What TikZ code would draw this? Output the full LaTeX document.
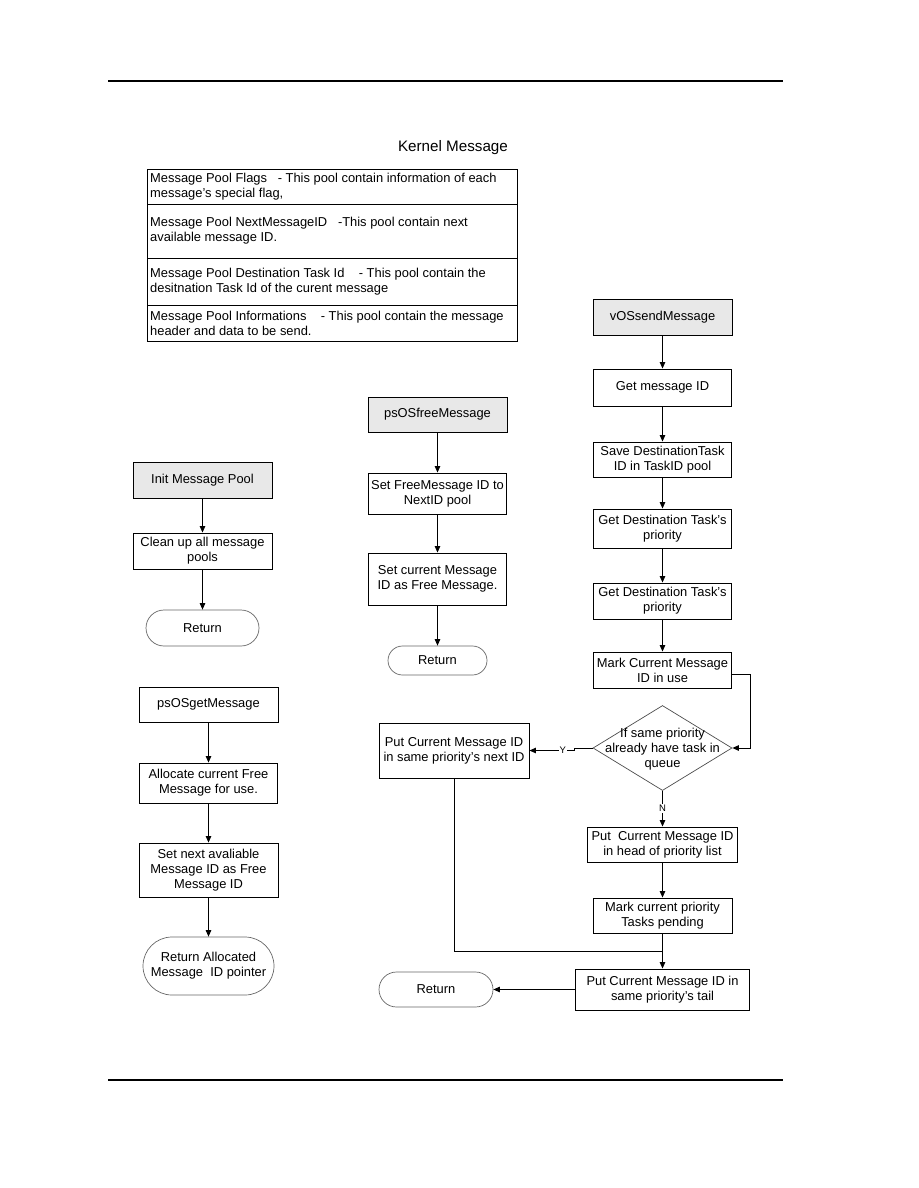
\documentclass[tikz,border=0pt]{standalone}
\usepackage{fontspec}
\setmainfont{Liberation Sans}
\usetikzlibrary{arrows.meta,shapes.geometric,shapes.misc}
\begin{document}
\begin{tikzpicture}[x=1pt,y=-1pt,
  every node/.style={font=\fontsize{12.9}{15}\selectfont, align=center, inner sep=1pt},
  proc/.style={draw, rectangle, line width=0.9pt},
  procg/.style={proc, fill=black!9},
  term/.style={draw=black!60, rounded rectangle, line width=0.7pt},
  dec/.style={draw=black!70, diamond, line width=0.7pt, inner sep=0pt},
  arr/.style={-{Triangle[length=6.5pt,width=5.5pt]}, line width=0.9pt},
  lbl/.style={fill=white, inner sep=1pt, font=\fontsize{9.5}{11}\selectfont},
  rowtxt/.style={anchor=west, align=left}]
\useasboundingbox (0,0) rectangle (918,1188);

% page rules
\coordinate (h1) at (108,81); \coordinate (h2) at (783,81);
\coordinate (f1) at (108,1080); \coordinate (f2) at (783,1080);
\draw[line width=2pt] (h1) -- (h2);
\draw[line width=2pt] (f1) -- (f2);

% title and table
\node[font=\fontsize{15.2}{17}\selectfont] (title) at (453,148) {Kernel Message};
\draw[line width=0.9pt] (147,169) rectangle (517,341);
\draw[line width=0.9pt] (147,204) -- (517,204);
\draw[line width=0.9pt] (147,258) -- (517,258);
\draw[line width=0.9pt] (147,305) -- (517,305);
\node[rowtxt] (r1) at (149,186.5) {Message Pool Flags\ \ \ - This pool contain information of each\\message's special flag,};
\node[rowtxt] (r2) at (149,230.5) {Message Pool NextMessageID\ \ \ -This pool contain next\\available message ID.};
\node[rowtxt] (r3) at (149,281.5) {Message Pool Destination Task Id\ \ \ \ - This pool contain the\\desitnation Task Id of the curent message};
\node[rowtxt] (r4) at (149,323) {Message Pool Informations\ \ \ \ - This pool contain the message\\header and data to be send.};

% left column 1
\node[procg, minimum width=139pt, minimum height=36pt] (init) at (202.5,480) {Init Message Pool};
\node[proc, minimum width=139pt, minimum height=36pt] (clean) at (202.5,551) {Clean up all message\\pools};
\node[term, minimum width=115pt, minimum height=36pt] (ret1) at (202.5,628) {Return};
\draw[arr] (init) -- (clean);
\draw[arr] (clean) -- (ret1);

% left column 2
\node[proc, minimum width=139pt, minimum height=35pt] (getmsg) at (208.5,704.5) {psOSgetMessage};
\node[proc, minimum width=138pt, minimum height=40pt] (alloc) at (208.5,783) {Allocate current Free\\Message for use.};
\node[proc, minimum width=139pt, minimum height=54pt] (setnext) at (208.5,870) {Set next avaliable\\Message ID as Free\\Message ID};
\node[term, minimum width=133pt, minimum height=58pt] (retalloc) at (208.5,966) {Return Allocated\\Message\ \ ID pointer};
\draw[arr] (getmsg) -- (alloc);
\draw[arr] (alloc) -- (setnext);
\draw[arr] (setnext) -- (retalloc);

% middle column
\node[procg, minimum width=139pt, minimum height=35pt] (free) at (437.5,414.5) {psOSfreeMessage};
\node[proc, minimum width=138pt, minimum height=41pt] (setfree) at (437.5,493.5) {Set FreeMessage ID to\\NextID pool};
\node[proc, minimum width=138pt, minimum height=52pt] (setcur) at (437.5,579) {Set current Message\\ID as Free Message.};
\node[term, minimum width=101pt, minimum height=29pt] (ret2) at (437.5,660.5) {Return};
\draw[arr] (free) -- (setfree);
\draw[arr] (setfree) -- (setcur);
\draw[arr] (setcur) -- (ret2);

% right column
\node[procg, minimum width=139pt, minimum height=36pt] (send) at (662.5,317) {vOSsendMessage};
\node[proc, minimum width=138pt, minimum height=37pt] (getid) at (662.5,387.5) {Get message ID};
\node[proc, minimum width=138pt, minimum height=35pt] (save) at (662.5,459.5) {Save DestinationTask\\ID in TaskID pool};
\node[proc, minimum width=138pt, minimum height=39pt] (prio1) at (662.5,528.5) {Get Destination Task's\\priority};
\node[proc, minimum width=138pt, minimum height=36pt] (prio2) at (662.5,601) {Get Destination Task's\\priority};
\node[proc, minimum width=138pt, minimum height=36pt] (mark) at (662.5,670) {Mark Current Message\\ID in use};
\node[dec, minimum width=139pt, minimum height=85pt] (dec) at (662.5,748) {};
\node (dectxt) at (662.5,749) {If same priority\\already have task in\\queue};
\node[proc, minimum width=150pt, minimum height=55pt] (putnext) at (454,750.5) {Put Current Message ID\\in same priority's next ID};
\node[proc, minimum width=150pt, minimum height=35pt] (puthead) at (662.5,844.5) {Put\ \ Current Message ID\\in head of priority list};
\node[proc, minimum width=139pt, minimum height=35pt] (pend) at (662.5,915.5) {Mark current priority\\Tasks pending};
\node[proc, minimum width=174pt, minimum height=41pt] (tail) at (662.5,989.5) {Put Current Message ID in\\same priority's tail};
\node[term, minimum width=116pt, minimum height=35pt] (ret3) at (436,989.5) {Return};

\draw[arr] (send) -- (getid);
\draw[arr] (getid) -- (save);
\draw[arr] (save) -- (prio1);
\draw[arr] (prio1) -- (prio2);
\draw[arr] (prio2) -- (mark);
\coordinate (c2) at (750,748);
\draw[arr] ([yshift=-4pt]mark.east) -| (c2) -- (dec.east);
\draw[arr] (dec.west) -- ++(-18,0) |- node[lbl, pos=0.63] {Y} (putnext.east);
\draw[arr] (dec.south) -- node[lbl] {N} (puthead.north);
\draw[arr] (puthead) -- (pend);
\coordinate (j) at (662.5,951);
\draw[line width=0.9pt] (putnext.south) |- (j);
\draw[arr] (pend) -- (tail);
\draw[arr] (tail) -- (ret3);
\end{tikzpicture}
\end{document}
